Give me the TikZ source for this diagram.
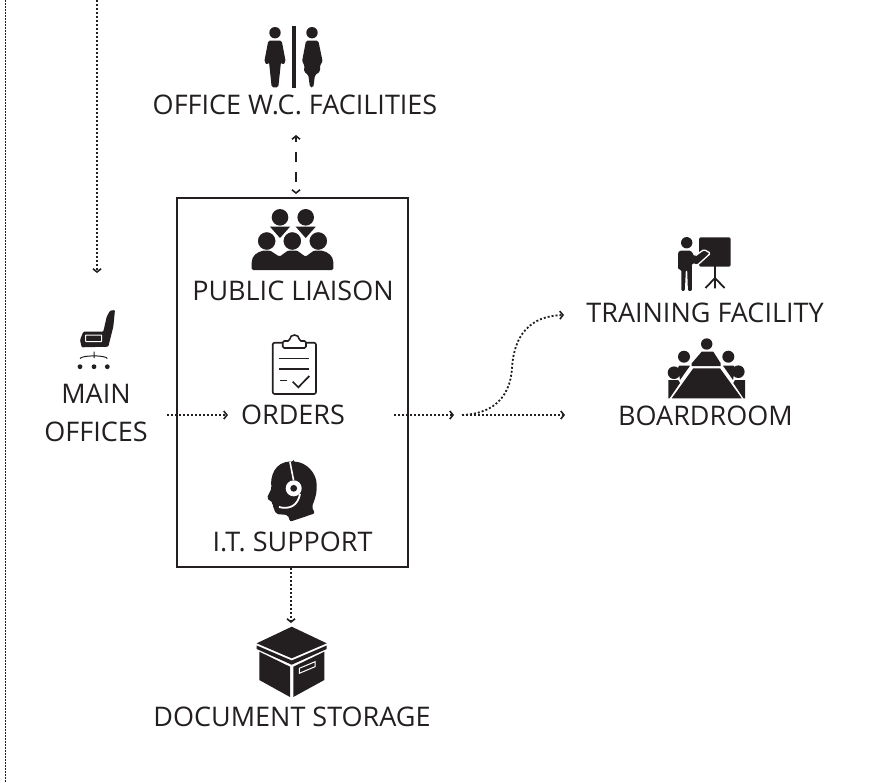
\documentclass[tikz,border=0pt]{standalone}
\usepackage{fontspec}
\setmainfont{Open Sans}
\usetikzlibrary{arrows.meta,positioning}
\definecolor{ink}{HTML}{231F20}
\tikzset{
  lbl/.style={text=ink,font=\fontsize{27}{38}\selectfont,align=center,inner sep=2pt},
  dotline/.style={draw=ink,line width=1.8pt,dash pattern=on 2pt off 2pt,-{Straight Barb[length=3.2pt,width=8pt,line width=1.6pt]}},
  dashline/.style={draw=ink,line width=1.7pt,dash pattern=on 10pt off 10pt,dash phase=5pt,{Straight Barb[length=3.2pt,width=8pt,line width=1.6pt]}-{Straight Barb[length=3.2pt,width=8pt,line width=1.6pt]}},
  solid icon/.style={fill=ink,draw=none},
  cut/.style={draw=white,line width=1.3pt},
}
\begin{document}
\begin{tikzpicture}[x=1pt,y=-1pt]
\useasboundingbox (0,0) rectangle (880,782);

% page edge and way in
\draw[draw=ink,line width=.7pt,dash pattern=on 1.5pt off 1.5pt] (5,0) -- (5,782);
\coordinate (topin) at (97,0);
\coordinate (chairtop) at (97,273);
\draw[dotline] (topin) -- (chairtop);

% labels
\node[draw=ink,line width=2pt,minimum width=231pt,minimum height=369pt,inner sep=0pt] (officebox) at (292.5,382.5) {};
\node[lbl] (wc) at (295,105) {OFFICE W.C. FACILITIES};
\node[lbl] (liaison) at (293,291) {PUBLIC LIAISON};
\node[lbl] (orders) at (293,415) {ORDERS};
\node[lbl] (support) at (292.5,542) {I.T. SUPPORT};
\node[lbl] (storage) at (292,717) {DOCUMENT STORAGE};
\node[lbl] (mainoffices) at (96,413) {MAIN\\OFFICES};
\node[lbl] (training) at (705,313) {TRAINING FACILITY};
\node[lbl] (boardroom) at (705.5,416) {BOARDROOM};

% connectors
\coordinate (boxtop) at (291,623);
\coordinate (forka) at (454,415);
\coordinate (forkb) at (462,415);
\coordinate (mainout) at (167,415);
\coordinate (wctop) at (296,135);
\coordinate (wcbot) at (296,194);
\coordinate (ordin) at (228,415);
\coordinate (boardin) at (565,415);
\coordinate (trainin) at (564,315);
\coordinate (ordout) at (394,415);
\draw[dashline] (wctop) -- (wcbot);
\draw[dotline] (mainout) -- (ordin);
\draw[dotline] (ordout) -- (forka);
\draw[dotline] (forkb) -- (boardin);
\draw[dotline] (forkb) .. controls (490,414) and (510,400) .. (512,368) .. controls (514,335) and (530,316) .. (trainin);
\draw[dotline] (officebox.south -| boxtop) -- (boxtop);

% w.c.
\fill[ink] (292.3,26) rectangle (295.7,88);
\fill[ink] (275,32.7) circle (5.7) (312,32.7) circle (5.7);
\fill[ink,rounded corners=1.5pt] (268.3,40.7) -- (281.7,40.7) -- (285.7,61.7) -- (282.7,65) -- (281,62) -- (278.3,87.3) -- (271.7,87.3) -- (269,62) -- (267.3,65) -- (264.3,61.7) -- cycle;
\fill[ink,rounded corners=1.5pt] (306,40.7) -- (318.3,40.7) -- (322.7,61.7) -- (320,65) -- (320,71.7) -- (315,75) -- (313.3,87.3) -- (310,87.3) -- (308.3,75) -- (304,71.7) -- (304.5,65) -- (302,61.7) -- cycle;

% liaison icon
\fill[ink] (280,217.3) circle (8.3) (305.7,217.3) circle (8.3);
\fill[ink] (270,226.7) -- (290,226.7) -- (280,238) -- cycle (295.7,226.7) -- (315.7,226.7) -- (305.7,238) -- cycle;
\filldraw[ink,draw=white,line width=1.4pt] (266.7,241) circle (9.6) (292.3,241) circle (9.6) (318.3,241) circle (9.6);
\fill[ink,rounded corners=1.5pt] (251.7,270) -- (251.7,263) .. controls (252,256) and (257,252) .. (264,250.5) -- (270,250.5) -- (279.5,256.7) -- (288,250.5) -- (297,250.5) -- (305.5,256.7) -- (314,250.5) -- (321,250.5) .. controls (328,252) and (333,256) .. (333.3,263) -- (333.3,270) -- cycle;

% orders icon
\draw[ink,line width=1.6pt,rounded corners=2pt] (272.7,342.7) rectangle (316,394);
\filldraw[ink,fill=white,line width=1.6pt,rounded corners=1.5pt] (282.7,348) -- (282.7,341) -- (289.5,341) .. controls (290,333.5) and (299,333.5) .. (299.5,341) -- (306,341) -- (306,348) -- cycle;
\draw[ink,line width=1.5pt] (279.3,358.3) -- (309.3,358.3) (279.3,369) -- (309.3,369) (280,380.7) -- (286.7,380.7);
\draw[ink,line width=1.7pt] (292.7,381.7) -- (298.3,387.3) -- (309.3,376);

% support icon
\fill[ink,rounded corners=2pt] (293.3,461.7) .. controls (306,462) and (316.7,473) .. (316.7,486.7) .. controls (316.7,494) and (314,502) .. (311.7,506.7) -- (315,513.3) -- (290,521.7) -- (288,515) -- (276,514) -- (272.5,505) -- (273.3,503) -- (266.7,498.3) -- (271.7,488.3) .. controls (270,478) and (274,461) .. cycle;
\draw[cut,line width=1.6pt] (290,462) -- (293.5,480);
\fill[white] (293.7,488.3) circle (8);
\fill[ink] (293.7,488.3) circle (3.4);
\draw[cut,line width=1.8pt] (300,494) .. controls (298,505) and (290,510) .. (279,507);

% chair
\fill[ink,rounded corners=1pt] (110,310.7) -- (115,310) -- (113.3,326.7) -- (108.3,346.7) -- (81.7,347.3) -- (80,340) -- (83.3,331.7) -- (103.3,331.7) -- (106.7,316.7) -- cycle;
\draw[white,line width=1pt,rounded corners=.5pt] (85.5,335) rectangle (101.7,341.5);
\draw[ink,line width=1pt] (94,351.7) -- (94,358) (80,358.5) .. controls (82,355) and (106,355) .. (107.3,358.5);
\fill[ink] (80,366.7) circle (2.4) (94,366.7) circle (2.4) (107.3,366.7) circle (2.4);

% training icon
\fill[ink,rounded corners=1.5pt] (699,237.3) rectangle (730.7,266.7);
\draw[ink,line width=1.8pt] (715,266) -- (715,288.3) (715,278) -- (705.5,288) (715,278) -- (724.5,288);
\fill[ink] (686.7,242.7) circle (5.7);
\filldraw[ink,draw=white,line width=1.3pt,rounded corners=1.5pt] (679,250) -- (691.7,250) -- (695,256) -- (704,249.5) -- (710.5,253.3) -- (697,265.5) -- (692.7,263.5) -- (692.7,291.7) -- (687.3,291.7) -- (686.5,270) -- (685.5,291.7) -- (680.7,291.7) -- (680.7,270) -- (677.3,270) -- (677.3,252) -- cycle;

% boardroom icon
\fill[ink] (706.7,344) circle (5.7);
\fill[ink] (691.7,363.3) -- (701.7,351.7) -- (713.3,351.7) -- (720.7,363.3) -- (720.7,366) -- (691.7,366) -- cycle;
\fill[ink] (684,356.7) circle (6) (728.3,356.7) circle (6) (674,372.7) circle (6.3) (738.3,371.7) circle (6.3);
\fill[ink] (679,365.7) -- (690,365.7) -- (680,380) -- (678,368) -- cycle (733.5,365.7) -- (723,365.7) -- (733,380) -- (735,368) -- cycle;
\fill[ink] (668.3,398.3) -- (668.3,380) -- (678.3,380) -- (680,383) -- (669.5,398.3) -- cycle (745,398.3) -- (745,380) -- (735,380) -- (733.3,383) -- (743.5,398.3) -- cycle;
\fill[ink] (693.3,368.3) -- (720,368.3) -- (741.7,398.3) -- (671.7,398.3) -- cycle;

% storage icon
\fill[ink] (291.7,626.7) -- (326.7,643.3) -- (291.7,658.3) -- (256.7,643.3) -- cycle;
\fill[ink] (256.7,645.5) -- (291.7,660.5) -- (326.7,645.5) -- (326.7,649) -- (291.7,664.7) -- (256.7,649) -- cycle;
\fill[ink] (259.3,651.7) -- (290,666.7) -- (290,697) -- (259.3,680) -- cycle;
\fill[ink] (324.3,651.7) -- (293.3,666.7) -- (293.3,697) -- (324.3,680) -- cycle;
\draw[white,line width=1pt] (299.3,668.3) -- (315,661.7) -- (315,666.7) -- (299.3,673.3) -- cycle;
\end{tikzpicture}
\end{document}
